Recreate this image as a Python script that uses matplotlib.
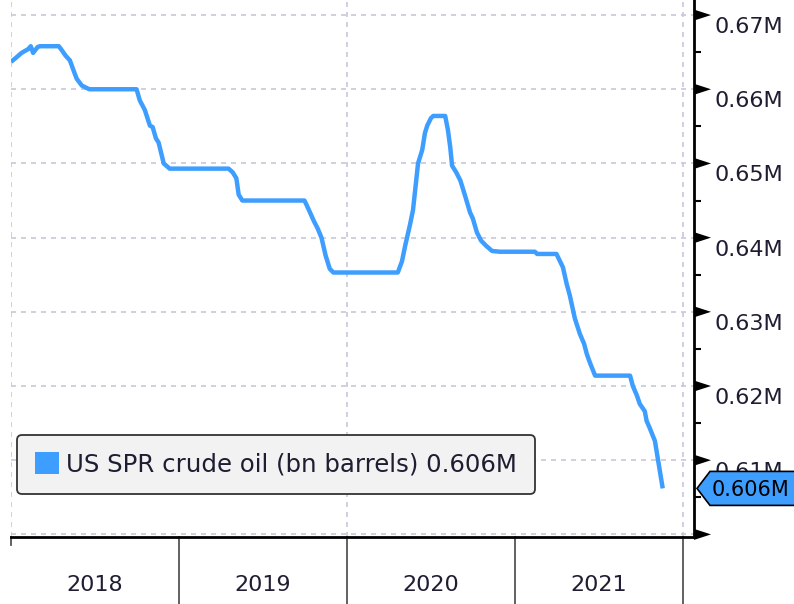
import numpy as np
import pandas as pd
import matplotlib
matplotlib.use("Agg")
import matplotlib.pyplot as plt
import matplotlib.transforms as mtransforms
from matplotlib.patches import Polygon, Patch
from matplotlib.lines import Line2D

# ==================================================
# Data
# ==================================================

SERIES_NAME = "US SPR crude oil (bn barrels)"

dates = [
    "2018-01-01", "2018-01-11", "2018-01-24", "2018-02-07", "2018-02-13",
    "2018-02-18", "2018-02-28", "2018-03-05", "2018-04-15", "2018-04-21",
    "2018-04-30", "2018-05-09", "2018-05-19", "2018-05-24", "2018-06-04",
    "2018-06-17", "2018-06-21", "2018-10-01", "2018-10-08", "2018-10-19",
    "2018-10-30", "2018-11-05", "2018-11-12", "2018-11-18", "2018-11-29",
    "2018-12-12", "2019-04-19", "2019-04-28", "2019-05-06", "2019-05-11",
    "2019-05-19", "2019-10-01", "2019-10-05", "2019-10-16", "2019-10-21",
    "2019-10-30", "2019-11-07", "2019-11-16", "2019-11-25", "2019-12-03",
    "2020-04-21", "2020-04-30", "2020-05-07", "2020-05-17", "2020-05-24",
    "2020-06-04", "2020-06-13", "2020-06-19", "2020-06-24", "2020-07-02",
    "2020-07-07", "2020-08-02", "2020-08-08", "2020-08-13", "2020-08-17",
    "2020-08-26", "2020-09-04", "2020-09-14", "2020-09-25", "2020-10-01",
    "2020-10-10", "2020-10-19", "2020-10-30", "2020-11-12", "2020-11-29",
    "2021-02-13", "2021-02-18", "2021-04-01", "2021-04-15", "2021-04-23",
    "2021-04-30", "2021-05-11", "2021-05-22", "2021-05-31", "2021-06-06",
    "2021-06-13", "2021-06-24", "2021-07-02", "2021-09-08", "2021-09-14",
    "2021-09-23", "2021-09-29", "2021-10-10", "2021-10-14", "2021-10-21",
    "2021-11-01", "2021-11-18",
]

values = [
    0.6637, 0.6642, 0.6649, 0.6654, 0.6658,
    0.6649, 0.6657, 0.6658, 0.6658, 0.6653,
    0.6645, 0.6639, 0.6622, 0.6614, 0.6605,
    0.6601, 0.6600, 0.6600, 0.6585, 0.6572,
    0.6551, 0.6549, 0.6534, 0.6528, 0.6500,
    0.6493, 0.6493, 0.6488, 0.6480, 0.6458,
    0.6450, 0.6450, 0.6445, 0.6430, 0.6423,
    0.6412, 0.6400, 0.6376, 0.6358, 0.6353,
    0.6353, 0.6368, 0.6389, 0.6416, 0.6437,
    0.6500, 0.6518, 0.6541, 0.6551, 0.6561,
    0.6564, 0.6564, 0.6545, 0.6522, 0.6497,
    0.6488, 0.6477, 0.6457, 0.6434, 0.6426,
    0.6407, 0.6396, 0.6389, 0.6382, 0.6381,
    0.6381, 0.6378, 0.6378, 0.6360, 0.6338,
    0.6322, 0.6291, 0.6270, 0.6257, 0.6243,
    0.6231, 0.6214, 0.6214, 0.6214, 0.6200,
    0.6187, 0.6176, 0.6166, 0.6153, 0.6143,
    0.6126, 0.6062,
]

years = [2018, 2019, 2020, 2021]
y_ticks = [0.60, 0.61, 0.62, 0.63, 0.64, 0.65, 0.66, 0.67]
grid_years = [2018, 2020, 2022]

# ==================================================
# Style
# ==================================================

LINE_COLOR = "#3d9eff"
GRID_COLOR = "#c6c9d8"
TEXT_COLOR = "#1e1e32"
TICK_SIZE = 16
LEGEND_SIZE = 17.6
TAG_SIZE = 15

plt.rcParams["font.family"] = ["DejaVu Sans"]

x = pd.to_datetime(dates)
y = np.array(values)

fig = plt.figure(figsize=(7.94, 6.04), dpi=100)
ax = fig.add_axes([11 / 794, 1 - 537 / 604, 683 / 794, 537 / 604])

ax.plot(x, y, color=LINE_COLOR, lw=3.2, solid_joinstyle="round",
        solid_capstyle="butt", zorder=3)

ax.set_xlim(pd.Timestamp("2018-01-01"), pd.Timestamp("2022-01-25"))
ax.set_ylim(0.59965, 0.67203)

# grid
for yv in y_ticks:
    ax.axhline(yv, color=GRID_COLOR, lw=1.2, ls=(0, (3, 3)), zorder=1)
for gy in grid_years:
    ax.axvline(pd.Timestamp(f"{gy}-01-01"), color=GRID_COLOR, lw=1.2,
               ls=(0, (3, 3)), zorder=1)

# spines
for s in ["left", "top"]:
    ax.spines[s].set_visible(False)
for s in ["right", "bottom"]:
    ax.spines[s].set_linewidth(2)
    ax.spines[s].set_color("black")

# ---------- y axis on the right ----------
ax.yaxis.tick_right()
ax.set_yticks(y_ticks)
ax.set_yticklabels([])
ax.set_yticks([v + 0.005 for v in y_ticks[:-1]], minor=True)
ax.tick_params(axis="y", which="major", length=0)
ax.tick_params(axis="y", which="minor", length=5, width=1.5,
               direction="out", color="black")

base = mtransforms.blended_transform_factory(ax.transAxes, ax.transData)


def pixel_shape(yv, verts, **kw):
    tr = mtransforms.Affine2D() + mtransforms.ScaledTranslation(1.0, yv, base)
    p = Polygon(verts, closed=True, transform=tr, clip_on=False, **kw)
    ax.add_patch(p)
    return p


# tick flags + labels (labels sit just below their tick)
lab_tr = mtransforms.offset_copy(base, fig=fig, x=20 * 0.72, y=-12 * 0.72,
                                 units="points")
for yv in y_ticks:
    pixel_shape(yv, [(0, 5.5), (17, 0), (0, -5.5)], facecolor="black",
                edgecolor="none", zorder=4)
    if yv > y_ticks[0]:
        ax.text(1.0, yv, f"{yv:.2f}M", transform=lab_tr, ha="left",
                va="center", fontsize=TICK_SIZE, color=TEXT_COLOR,
                clip_on=False, zorder=4)

# last value tag
last = values[-1]
pixel_shape(last, [(3, 0), (16, 17), (110, 17), (110, -17), (16, -17)],
            facecolor=LINE_COLOR, edgecolor="black", lw=1.2, zorder=6)
tag_tr = mtransforms.offset_copy(base, fig=fig, x=18 * 0.72, y=0,
                                 units="points")
ax.text(1.0, last, f"{last:.3f}M", transform=tag_tr, ha="left",
        va="center_baseline", fontsize=TAG_SIZE, color="black",
        zorder=7, clip_on=False)

# ---------- x axis: year bands ----------
ax.set_xticks([])
xbase = mtransforms.blended_transform_factory(ax.transData, ax.transAxes)
for yr in years + [2022]:
    depth = -8 / 537 if yr == years[0] else -67 / 537
    ax.add_line(Line2D([pd.Timestamp(f"{yr}-01-01")] * 2, [0, depth],
                       transform=xbase, color="#555555", lw=1.3,
                       clip_on=False))
for yr in years:
    ax.text(pd.Timestamp(f"{yr}-07-02"), -48 / 537, str(yr), transform=xbase,
            ha="center", va="center", fontsize=TICK_SIZE, color=TEXT_COLOR)

# ---------- legend ----------
leg = ax.legend(
    handles=[Patch(facecolor=LINE_COLOR, edgecolor="none")],
    labels=[f"{SERIES_NAME} {last:.3f}M"],
    loc="lower left", bbox_to_anchor=(6 / 683, 43 / 537),
    borderaxespad=0, fontsize=LEGEND_SIZE, handlelength=0.98,
    handleheight=0.98, handletextpad=0.32, borderpad=0.72, fancybox=True,
    framealpha=1, labelcolor=TEXT_COLOR,
)
frame = leg.get_frame()
frame.set_facecolor("#f2f2f2")
frame.set_edgecolor("#333333")
frame.set_linewidth(1.3)
leg.set_zorder(5)

fig.savefig("out.png", dpi=100)
